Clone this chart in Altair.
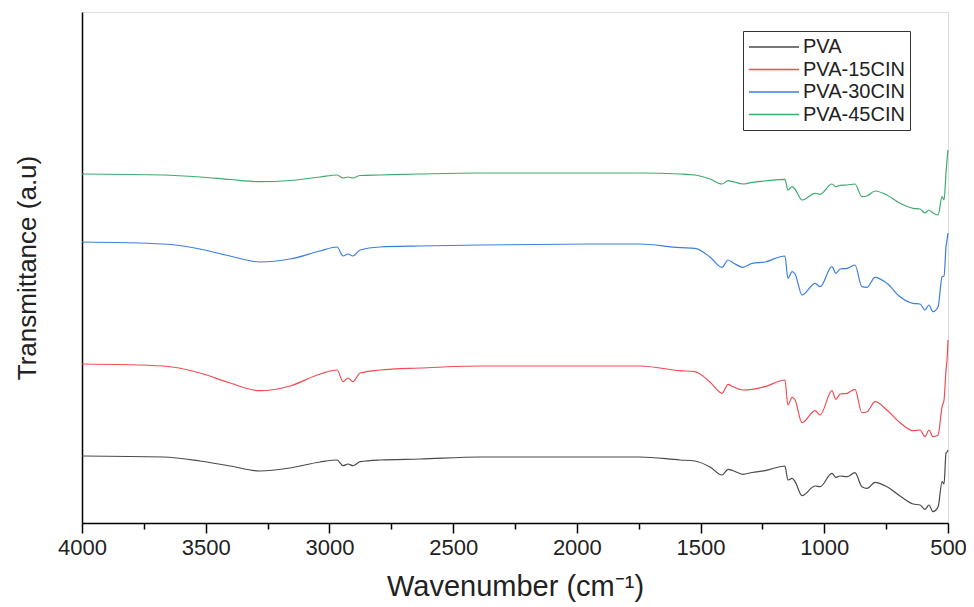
import altair as alt
import pandas as pd

series = ["PVA", "PVA-15CIN", "PVA-30CIN", "PVA-45CIN"]
colors = ["#4a4a4a", "#ef4d52", "#3b7fdc", "#3dab6c"]

wavenumber = [4000, 3673, 3523, 3402, 3281, 3159, 3038, 2969, 2945, 2925, 2905, 2876,
              2796, 2634, 2391, 1906, 1745, 1583, 1523, 1462, 1413, 1389, 1369, 1329,
              1292, 1240, 1159, 1147, 1130, 1118, 1090, 1037, 1017, 969, 953, 936, 908,
              876, 848, 827, 795, 747, 694, 641, 613, 593, 577, 561, 540, 524, 516, 508,
              504, 500]

pva = [67, 66, 62, 57, 52, 55, 61, 63, 57.3, 59, 57.3, 61.3, 63, 64, 66, 66, 66, 63, 62,
       56, 48, 53.7, 52.3, 48.7, 50.5, 52.3, 57, 43, 44.7, 41.3, 27.3, 37, 36.3, 49.7,
       45.7, 47, 46.3, 50.3, 36.3, 34.7, 40.7, 36.3, 27, 19, 18, 13.7, 18, 11.3, 16.3,
       41.3, 39, 70, 71, 73]

pva15 = [159, 157, 150, 140, 132.3, 137, 149, 153, 141.3, 145, 141.3, 150, 153, 155, 157,
         157, 157, 152.3, 151.3, 141, 129.7, 138.7, 136.3, 133, 133.7, 136.3, 143, 118,
         125.7, 123, 100.3, 112.3, 108, 132.3, 123.7, 129, 129.7, 133.7, 110.3, 111.3,
         121.3, 113, 100.3, 92.3, 93, 86.3, 93, 86.3, 88, 116.3, 123, 153, 163, 183]

pva30 = [281, 279, 274, 267, 261, 264, 272, 276, 267, 269, 267, 273, 276, 277, 278, 279,
         279, 275.3, 274.7, 266, 255.7, 263, 260.3, 255.7, 259.7, 261, 267, 244.7, 251.3,
         249, 228, 239.7, 236.3, 256.3, 249.7, 254, 254.7, 258, 236.3, 235.7, 245.7,
         239.7, 226.3, 219.7, 219, 213, 218, 211.3, 216.3, 246.3, 247, 276.3, 283, 290]

pva45 = [349, 348, 346, 343.5, 341.3, 342.5, 346, 348, 345, 346, 345, 347.5, 348, 349,
         350, 350, 350, 349, 348, 344, 339, 342.3, 341.3, 339, 340.7, 342, 343.7, 333,
         336.3, 333.7, 323, 329.7, 328.7, 339, 336.3, 337.7, 338, 339, 326.3, 327, 332,
         328, 319.7, 314.7, 314, 310, 313, 310, 308, 326.3, 323, 350, 363, 373]

x_ticks = list(range(500, 4001, 250))

rows = []
for name, vals in zip(series, [pva, pva15, pva30, pva45]):
    for w, v in zip(wavenumber, vals):
        rows.append({"wavenumber": w, "transmittance": v, "sample": name})
df = pd.DataFrame(rows)

FONT = "Liberation Sans"

chart = alt.Chart(df).mark_line(strokeWidth=1.2, interpolate="monotone").encode(
    x=alt.X(
        "wavenumber:Q",
        scale=alt.Scale(domain=[500, 4000], reverse=True, nice=False, zero=False),
        axis=alt.Axis(
            values=x_ticks,
            format="d",
            labelExpr="datum.value % 500 === 0 ? datum.label : ''",
            tickSize={"condition": {"test": "datum.value % 500 === 0", "value": 10}, "value": 6},
            tickColor="black",
            tickWidth=1.5,
            domainColor="black",
            domainWidth=1.5,
            labelFont=FONT,
            labelFontSize=22,
            labelColor="#222222",
            labelPadding=4,
            labelFlush=False,
            title="Wavenumber (cm⁻¹)",
            titleFont=FONT,
            titleFontSize=29,
            titleFontWeight="normal",
            titleColor="#222222",
            titlePadding=14,
            grid=False,
        ),
    ),
    y=alt.Y(
        "transmittance:Q",
        scale=alt.Scale(domain=[0, 511], nice=False, zero=False),
        axis=alt.Axis(
            ticks=False,
            labels=False,
            grid=False,
            domainColor="black",
            domainWidth=1.5,
            title="Transmittance (a.u)",
            titleFont=FONT,
            titleFontSize=26,
            titleFontWeight="normal",
            titleColor="#222222",
            titlePadding=42,
        ),
    ),
    color=alt.Color(
        "sample:N",
        scale=alt.Scale(domain=series, range=colors),
        legend=alt.Legend(
            title=None,
            orient="none",
            legendX=661,
            legendY=19,
            symbolType="M -1 0 H 4",
            symbolSize=400,
            symbolStrokeWidth=1.5,
            symbolFillColor="transparent",
            labelFont=FONT,
            labelFontSize=20,
            labelColor="#222222",
            labelOffset=33,
            rowPadding=1.5,
            padding=5,
            strokeColor="#333333",
            fillColor="white",
        ),
    ),
).properties(
    width=866,
    height=511,
    padding={"left": 74, "top": 4, "right": 18, "bottom": 84},
    autosize=alt.AutoSizeParams(type="none"),
).configure_view(stroke="black", strokeWidth=2).configure(background="white")

chart.save("out.html", embed_options={"renderer": "svg", "actions": False})
